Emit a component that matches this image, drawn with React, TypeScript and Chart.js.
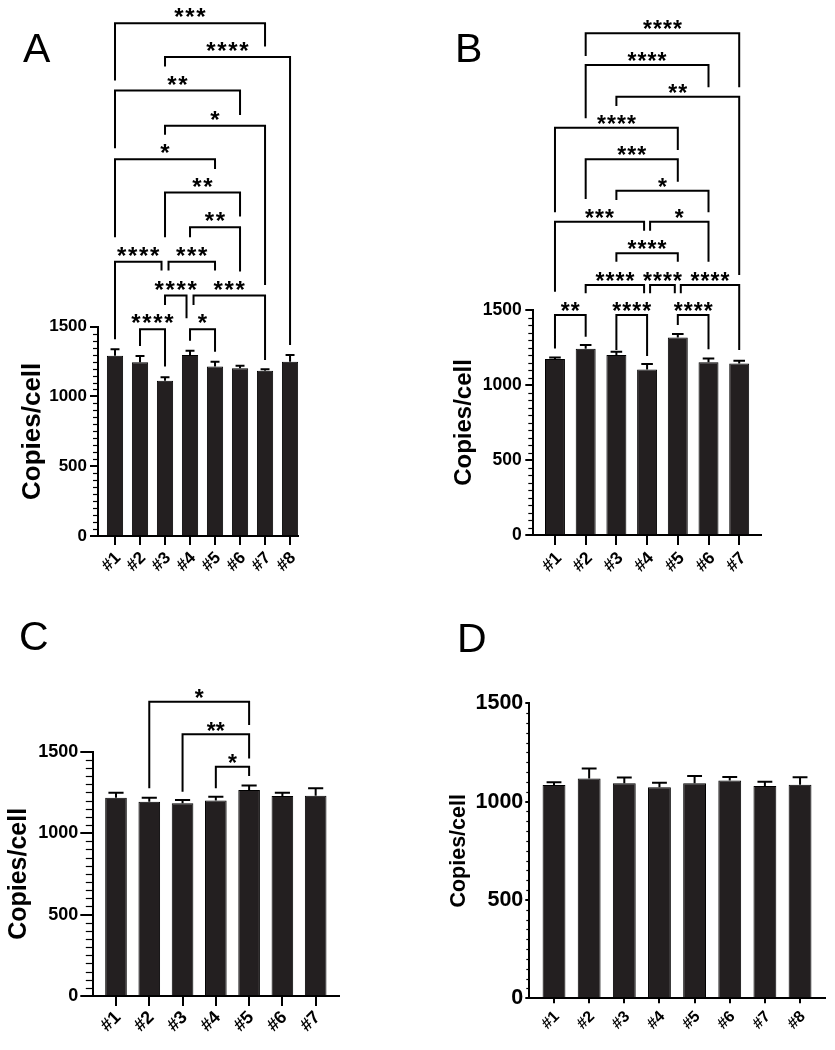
import React, { useEffect, useRef } from "react";
import { Chart, registerables } from "chart.js";

Chart.register(...registerables);

const FONT = '"Liberation Sans", Arial, Helvetica, sans-serif';

// ---------------- DATA ----------------
type Bracket = [number, number, number, number, number, string]; // from, to, level, leftLegEnd, rightLegEnd, label

const catsA = ["#1", "#2", "#3", "#4", "#5", "#6", "#7", "#8"];
const meanA = [1292, 1245, 1113, 1297, 1214, 1202, 1185, 1249];
const errA = [46, 45, 25, 31, 35, 19, 10, 48];
const bracketsA: Bracket[] = [
  [1, 7, 3675, 3264, 3508, "***"],
  [3, 8, 3432, 3364, 1369, "****"],
  [1, 6, 3192, 2779, 3018, "**"],
  [3, 7, 2941, 2875, 1799, "*"],
  [1, 5, 2700, 2141, 2631, "*"],
  [3, 6, 2461, 2141, 2289, "**"],
  [4, 6, 2213, 2141, 1895, "**"],
  [1, 3, 1966, 1410, 1902, "****"],
  [3, 5, 1966, 1902, 1902, "***"],
  [3, 4, 1723, 1656, 1561, "****"],
  [4, 7, 1723, 1656, 1262, "***"],
  [2, 3, 1482, 1362, 1214, "****"],
  [4, 5, 1482, 1400, 1321, "*"],
];

const catsB = ["#1", "#2", "#3", "#4", "#5", "#6", "#7"];
const meanB = [1173, 1242, 1200, 1104, 1316, 1151, 1144];
const errB = [11, 25, 22, 36, 24, 25, 18];
const bracketsB: Bracket[] = [
  [2, 7, 3345, 3193, 2985, "****"],
  [2, 6, 3133, 2778, 2985, "****"],
  [3, 7, 2922, 2860, 1733, "**"],
  [1, 5, 2715, 2151, 2567, "****"],
  [2, 5, 2505, 2240, 2355, "***"],
  [3, 6, 2295, 2233, 2151, "*"],
  [1, 4, 2089, 1622, 2029, "***"],
  [4, 6, 2089, 2029, 1822, "*"],
  [3, 5, 1878, 1822, 1822, "****"],
  [2, 4, 1667, 1611, 1611, "****"],
  [4, 5, 1667, 1611, 1611, "****"],
  [5, 7, 1667, 1611, 1233, "****"],
  [1, 2, 1467, 1244, 1322, "**"],
  [3, 4, 1467, 1233, 1193, "****"],
  [5, 6, 1467, 1400, 1238, "****"],
];

const catsC = ["#1", "#2", "#3", "#4", "#5", "#6", "#7"];
const meanC = [1217, 1193, 1183, 1201, 1265, 1228, 1230];
const errC = [31, 24, 20, 23, 28, 20, 45];
const bracketsC: Bracket[] = [
  [2, 5, 1807, 1275, 1664, "*"],
  [3, 5, 1607, 1254, 1459, "**"],
  [4, 5, 1408, 1275, 1351, "*"],
];

const catsD = ["#1", "#2", "#3", "#4", "#5", "#6", "#7", "#8"];
const meanD = [1084, 1118, 1093, 1073, 1093, 1108, 1079, 1086];
const errD = [14, 51, 30, 23, 37, 17, 22, 38];
const bracketsD: Bracket[] = [];

const yTickValues = [0, 500, 1000, 1500];
const yMinorStep = 50;
const yTitle = "Copies/cell";

// ---------------- LAYOUT / STYLE ----------------
interface Panel {
  letter: string;
  letterPos: { left: number; top: number };
  cats: string[];
  mean: number[];
  err: number[];
  brackets: Bracket[];
  box: { left: number; top: number; w: number; h: number };
  yWidth: number;
  padRight: number;
  padTop: number;
  xHeight: number;
  xMin: number;
  xMax: number;
  titleSize: number;
  titlePad: number;
  yTickSize: number;
  yTickLen: number;
  yTickPad: number;
  minorLen: number;
  xTickLen: number;
  xTickSize: number;
  xTickPad: number;
  xLabelOffset: number;
  starGap: number;
  starLift: number;
  starSize: number;
  shift: number;
  capRatio: number;
}

const panels: Panel[] = [
  {
    letter: "A", letterPos: { left: 23, top: 28 },
    cats: catsA, mean: meanA, err: errA, brackets: bracketsA,
    box: { left: 0, top: 0, w: 417, h: 620 },
    yWidth: 98, padRight: 118.7, padTop: 326.7, xHeight: 84,
    xMin: 0.32, xMax: 8.33,
    titleSize: 26, titlePad: 17, yTickSize: 17, yTickLen: 8, yTickPad: 3, minorLen: 4,
    xTickLen: 9, xTickSize: 17, xTickPad: 3, xLabelOffset: 3,
    starGap: 11, starLift: 10.5, starSize: 24, shift: 3.5, capRatio: 0.55,
  },
  {
    letter: "B", letterPos: { left: 455, top: 28 },
    cats: catsB, mean: meanB, err: errB, brackets: bracketsB,
    box: { left: 417, top: 0, w: 418, h: 620 },
    yWidth: 116.3, padRight: 74.3, padTop: 310, xHeight: 85,
    xMin: 0.294, xMax: 7.7,
    titleSize: 24, titlePad: 33, yTickSize: 17.5, yTickLen: 8, yTickPad: 3.6, minorLen: 4,
    xTickLen: 10, xTickSize: 17.5, xTickPad: 3, xLabelOffset: 4,
    starGap: 10, starLift: 8.5, starSize: 23, shift: 3, capRatio: 0.58,
  },
  {
    letter: "C", letterPos: { left: 19, top: 616 },
    cats: catsC, mean: meanC, err: errC, brackets: bracketsC,
    box: { left: 0, top: 620, w: 417, h: 430 },
    yWidth: 93.3, padRight: 77.7, padTop: 131.7, xHeight: 54,
    xMin: 0.318, xMax: 7.71,
    titleSize: 25, titlePad: 4, yTickSize: 18, yTickLen: 13, yTickPad: 2, minorLen: 6.5,
    xTickLen: 10, xTickSize: 18, xTickPad: 1, xLabelOffset: 2,
    starGap: 9, starLift: 8, starSize: 23, shift: 3, capRatio: 0.7,
  },
  {
    letter: "D", letterPos: { left: 457, top: 618 },
    cats: catsD, mean: meanD, err: errD, brackets: bracketsD,
    box: { left: 417, top: 620, w: 418, h: 430 },
    yWidth: 112.3, padRight: 10, padTop: 83.3, xHeight: 51.7,
    xMin: 0.297, xMax: 8.71,
    titleSize: 21.5, titlePad: 29, yTickSize: 21.5, yTickLen: 4, yTickPad: 2, minorLen: 2,
    xTickLen: 5, xTickSize: 16, xTickPad: 4, xLabelOffset: 3,
    starGap: 10, starLift: 8, starSize: 23, shift: 3, capRatio: 0.65,
  },
];

function makeAnnotPlugin(p: Panel) {
  return {
    id: "annot",
    afterDatasetsDraw(chart: any) {
      const { ctx } = chart;
      const x = chart.scales.x;
      const y = chart.scales.y;
      const meta = chart.getDatasetMeta(0);
      ctx.save();
      ctx.strokeStyle = "#000";
      ctx.fillStyle = "#000";
      ctx.lineCap = "butt";
      ctx.lineJoin = "miter";

      // error bars (one-sided, upward)
      ctx.lineWidth = 2;
      meta.data.forEach((bar: any, i: number) => {
        const top = y.getPixelForValue(p.mean[i] + p.err[i]);
        const half = (bar.width * p.capRatio) / 2;
        ctx.beginPath();
        ctx.moveTo(bar.x, bar.y);
        ctx.lineTo(bar.x, top);
        ctx.moveTo(bar.x - half, top);
        ctx.lineTo(bar.x + half, top);
        ctx.stroke();
      });

      // minor y ticks
      ctx.lineWidth = 1.2;
      const axisX = chart.chartArea.left;
      const ymax = yTickValues[yTickValues.length - 1];
      for (let v = yMinorStep; v < ymax; v += yMinorStep) {
        if (yTickValues.includes(v)) continue;
        const py = Math.round(y.getPixelForValue(v)) + 0.5;
        ctx.beginPath();
        ctx.moveTo(axisX - p.minorLen - 1, py);
        ctx.lineTo(axisX, py);
        ctx.stroke();
      }

      // significance brackets
      ctx.lineWidth = 2;
      ctx.font = `bold ${p.starSize}px ${FONT}`;
      ctx.textAlign = "center";
      ctx.textBaseline = "alphabetic";
      const m = ctx.measureText("*");
      const starOff = (m.actualBoundingBoxAscent - m.actualBoundingBoxDescent) / 2;
      p.brackets.forEach((b) => {
        const [f, t, lvl, le, re, lab] = b;
        let xl = x.getPixelForValue(f);
        let xr = x.getPixelForValue(t);
        if (p.brackets.some((o) => o !== b && o[2] === lvl && o[1] === f)) xl += p.shift;
        if (p.brackets.some((o) => o !== b && o[2] === lvl && o[0] === t)) xr -= p.shift;
        const yl = y.getPixelForValue(lvl);
        ctx.beginPath();
        ctx.moveTo(xl, y.getPixelForValue(le));
        ctx.lineTo(xl, yl);
        ctx.lineTo(xr, yl);
        ctx.lineTo(xr, y.getPixelForValue(re));
        ctx.stroke();
        const cx = (xl + xr) / 2;
        const cy = yl - p.starLift;
        const n = lab.length;
        for (let k = 0; k < n; k++) {
          const sx = cx + (k - (n - 1) / 2) * p.starGap;
          ctx.fillText("*", sx, cy + starOff);
        }
      });
      ctx.restore();
    },
  };
}

function PanelChart({ p }: { p: Panel }) {
  const ref = useRef<HTMLCanvasElement | null>(null);
  useEffect(() => {
    if (!ref.current) return;
    const chart = new Chart(ref.current, {
      type: "bar",
      data: {
        datasets: [
          {
            data: p.cats.map((_, i) => ({ x: i + 1, y: p.mean[i] })),
            backgroundColor: "#231f20",
            borderColor: "#000",
            borderWidth: 1,
            barPercentage: 0.65,
            categoryPercentage: 1,
          },
        ],
      },
      options: {
        responsive: false,
        animation: false,
        devicePixelRatio: 1,
        events: [],
        layout: { padding: { left: 0, right: p.padRight, top: p.padTop, bottom: 0 } },
        plugins: { legend: { display: false }, tooltip: { enabled: false }, title: { display: false } },
        scales: {
          x: {
            type: "linear",
            min: p.xMin,
            max: p.xMax,
            offset: false,
            afterBuildTicks: (s: any) => {
              s.ticks = p.cats.map((_, i) => ({ value: i + 1 }));
            },
            afterFit: (s: any) => {
              s.height = p.xHeight;
            },
            ticks: {
              autoSkip: false,
              minRotation: 45,
              maxRotation: 45,
              padding: p.xTickPad,
              labelOffset: p.xLabelOffset,
              color: "#000",
              font: { family: FONT, size: p.xTickSize, weight: "bold" },
              callback: (v: any) => p.cats[Number(v) - 1] ?? "",
            },
            grid: { drawOnChartArea: false, color: "#000", lineWidth: 2, tickLength: p.xTickLen, offset: false },
            border: { display: true, color: "#000", width: 2 },
          },
          y: {
            type: "linear",
            min: yTickValues[0],
            max: yTickValues[yTickValues.length - 1],
            afterBuildTicks: (s: any) => {
              s.ticks = yTickValues.map((v) => ({ value: v }));
            },
            afterFit: (s: any) => {
              s.width = p.yWidth;
            },
            ticks: {
              padding: p.yTickPad,
              color: "#000",
              font: { family: FONT, size: p.yTickSize, weight: "bold" },
              callback: (v: any) => String(v),
            },
            grid: { drawOnChartArea: false, color: "#000", lineWidth: 2, tickLength: p.yTickLen },
            border: { display: true, color: "#000", width: 2 },
            title: {
              display: true,
              text: yTitle,
              color: "#000",
              font: { family: FONT, size: p.titleSize, weight: "bold" },
              padding: { top: p.titlePad, bottom: 0 },
            },
          },
        },
      },
      plugins: [makeAnnotPlugin(p)],
    } as any);
    return () => chart.destroy();
  }, [p]);
  return (
    <canvas
      ref={ref}
      width={p.box.w}
      height={p.box.h}
      style={{ position: "absolute", left: p.box.left, top: p.box.top, width: p.box.w, height: p.box.h }}
    />
  );
}

export default function App() {
  return (
    <div style={{ position: "absolute", left: 0, top: 0, width: 835, height: 1050, background: "#fff", overflow: "hidden" }}>
      {panels.map((p) => (
        <PanelChart key={p.letter} p={p} />
      ))}
      {panels.map((p) => (
        <div
          key={"L" + p.letter}
          style={{
            position: "absolute",
            left: p.letterPos.left,
            top: p.letterPos.top,
            fontFamily: FONT,
            fontSize: 41,
            lineHeight: 1,
            color: "#000",
          }}
        >
          {p.letter}
        </div>
      ))}
    </div>
  );
}
